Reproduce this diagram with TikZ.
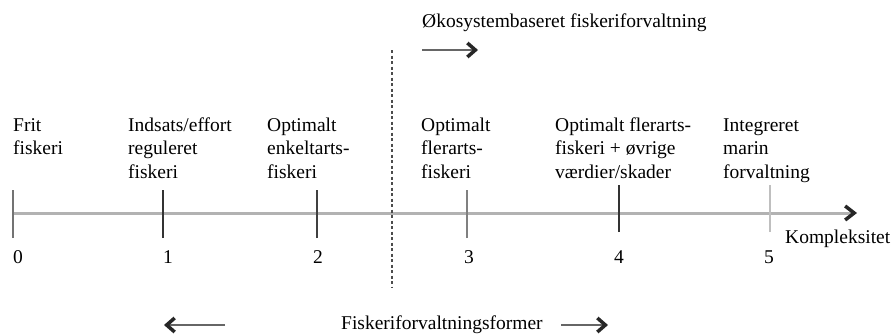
\documentclass[tikz,border=0pt]{standalone}
\usepackage{fontspec}
\setmainfont{Liberation Serif}
\usetikzlibrary{arrows.meta}
\begin{document}
\begin{tikzpicture}[x=1pt,y=-1pt,
  lbl/.style={anchor=base west, align=left, inner sep=0pt, font=\fontsize{19.5}{23.5}\selectfont},
  num/.style={anchor=base, inner sep=0pt, font=\fontsize{19.5}{23.5}\selectfont},
  tickmark/.style={line width=2.4pt},
  axisline/.style={line width=3pt, color=black!30, -{Straight Barb[length=9pt,width=14pt,line width=3.5pt,color=black!85]}},
  darrow/.style={line width=2.6pt, color=black!60, -{Straight Barb[length=8pt,width=14pt,line width=3.5pt,color=black!85]}},
  sep/.style={line width=2.2pt, color=black!70, dash pattern=on 3pt off 2.5pt}]
\useasboundingbox (0,0) rectangle (895,335);
% axis
\coordinate (a0) at (12,213);
\coordinate (aend) at (857,213);
\draw[axisline] (a0) -- (aend);
% ticks
\coordinate (t0) at (13,213);
\coordinate (t1) at (163,213);
\coordinate (t2) at (317,213);
\coordinate (t3) at (467,213);
\coordinate (t4) at (619,213);
\coordinate (t5) at (770,213);
\draw[tickmark, black!55] ([yshift=-25]t0) -- ([yshift=23]t0);
\draw[tickmark, black!80] ([yshift=-25]t1) -- ([yshift=23]t1);
\draw[tickmark, black!75] ([yshift=-25]t2) -- ([yshift=23]t2);
\draw[tickmark, black!50] ([yshift=-25]t3) -- ([yshift=23]t3);
\draw[tickmark, black!80] ([yshift=-19]t4) -- ([yshift=28]t4);
\draw[tickmark, black!25] ([yshift=-19]t5) -- ([yshift=28]t5);
% numbers
\node[num] (n0) at (18,263) {0};
\node[num] (n1) at (168,263) {1};
\node[num] (n2) at (318,263) {2};
\node[num] (n3) at (469,263) {3};
\node[num] (n4) at (619,263) {4};
\node[num] (n5) at (769,263) {5};
\node[lbl] (komp) at (785,243) {Kompleksitet};
% labels (anchor at baseline of last line)
\node[lbl] (l0) at (13,154.5) {Frit\\fiskeri};
\node[lbl] (l1) at (128,178) {Indsats/effort\\reguleret\\fiskeri};
\node[lbl] (l2) at (267,178) {Optimalt\\enkeltarts-\\fiskeri};
\node[lbl] (l3) at (421,178) {Optimalt\\flerarts-\\fiskeri};
\node[lbl] (l4) at (555,178) {Optimalt flerarts-\\fiskeri + øvrige\\værdier/skader};
\node[lbl] (l5) at (723,178) {Integreret\\marin\\forvaltning};
% separator
\coordinate (s1) at (392,50);
\coordinate (s2) at (392,288);
\draw[sep] (s1) -- (s2);
% top
\node[lbl] (oko) at (422,27) {Økosystembaseret fiskeriforvaltning};
\coordinate (oa1) at (422,50);
\coordinate (oa2) at (478,50);
\draw[darrow] (oa1) -- (oa2);
% bottom
\node[lbl] (fisk) at (341,329) {Fiskeriforvaltningsformer};
\coordinate (la1) at (225,325);
\coordinate (la2) at (164,325);
\draw[darrow] (la1) -- (la2);
\coordinate (ra1) at (561,325);
\coordinate (ra2) at (608,325);
\draw[darrow] (ra1) -- (ra2);
\end{tikzpicture}
\end{document}
